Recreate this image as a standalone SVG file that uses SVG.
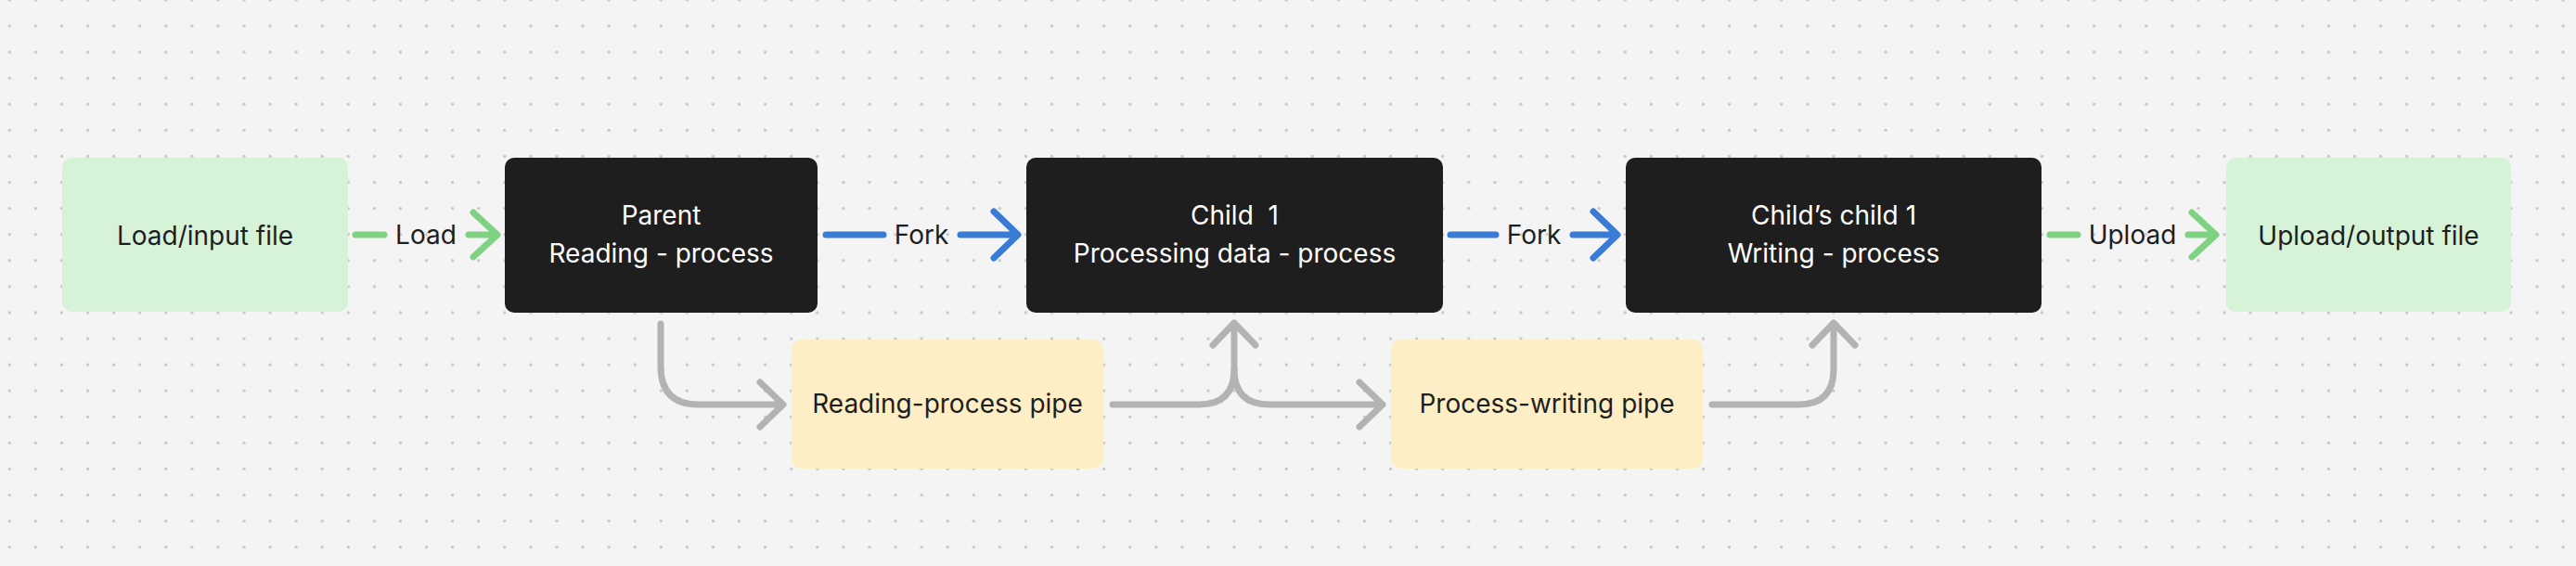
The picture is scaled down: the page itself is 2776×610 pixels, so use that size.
<svg xmlns="http://www.w3.org/2000/svg" width="2776" height="610" viewBox="0 0 2776 610">
  <defs>
    <pattern id="dots" x="-3.74" y="-14.04" width="28.08" height="28.08" patternUnits="userSpaceOnUse">
      <circle cx="14.04" cy="14.04" r="1.7" fill="#c8c8c8"/>
    </pattern>
    <style>
      .lbl { font-family: Inter, "Noto Sans", "Liberation Sans", sans-serif; font-size: 28px; text-anchor: middle; }
      .dark { fill: #1e1e1e; }
      .light { fill: #ffffff; }
      .green-box { fill: #d6f3d8; }
      .black-box { fill: #1e1e1e; }
      .yellow-box { fill: #fdeec5; }
      .c { fill: none; stroke-width: 7; stroke-linecap: round; stroke-linejoin: round; }
      .cg { stroke: #80d283; }
      .cb { stroke: #3a7bd5; }
      .cy { stroke: #b3b3b3; }
    </style>
  </defs>
  <rect width="2776" height="610" fill="#f4f4f4"/>
  <rect width="2776" height="610" fill="url(#dots)"/>

  <g id="connectors">
    <!-- Load -->
    <g id="edge-load">
      <path class="c cg" d="M383 253 H414"/>
      <text class="lbl dark" x="459" y="263">Load</text>
      <path class="c cg" d="M505 253 H535 M510 229 L536 253 L510 277"/>
    </g>
    <!-- Fork 1 -->
    <g id="edge-fork1">
      <path class="c cb" d="M890 253 H952"/>
      <text class="lbl dark" x="993" y="263">Fork</text>
      <path class="c cb" d="M1035 253 H1096 M1071 228 L1097 253 L1071 278"/>
    </g>
    <!-- Fork 2 -->
    <g id="edge-fork2">
      <path class="c cb" d="M1563 253 H1612"/>
      <text class="lbl dark" x="1653" y="263">Fork</text>
      <path class="c cb" d="M1695 253 H1742 M1717 228 L1743 253 L1717 278"/>
    </g>
    <!-- Upload -->
    <g id="edge-upload">
      <path class="c cg" d="M2209 253 H2239"/>
      <text class="lbl dark" x="2298" y="263">Upload</text>
      <path class="c cg" d="M2358 253 H2387 M2362 229 L2388 253 L2362 277"/>
    </g>
    <!-- Parent -> Reading-process pipe -->
    <g id="edge-parent-pipe1">
      <path class="c cy" d="M712 349 V395 Q712 436 753 436 H843 M819 412 L844 436 L819 460"/>
    </g>
    <!-- Reading-process pipe -> Child 1 -->
    <g id="edge-pipe1-child1">
      <path class="c cy" d="M1199 436 H1292 Q1330 436 1330 398 V348 M1307 372 L1330 348 L1353 372"/>
    </g>
    <!-- Child 1 -> Process-writing pipe -->
    <g id="edge-child1-pipe2">
      <path class="c cy" d="M1330 398 Q1330 436 1368 436 H1489 M1465 412 L1490 436 L1465 460"/>
    </g>
    <!-- Process-writing pipe -> Child's child 1 -->
    <g id="edge-pipe2-grandchild">
      <path class="c cy" d="M1845 436 H1938 Q1976 436 1976 398 V348 M1953 372 L1976 348 L1999 372"/>
    </g>
  </g>

  <g id="node-load-input">
    <rect class="green-box" x="67" y="170" width="308" height="166" rx="10"/>
    <text class="lbl dark" x="221" y="264">Load/input file</text>
  </g>
  <g id="node-parent">
    <rect class="black-box" x="544" y="170" width="337" height="167" rx="10"/>
    <text class="lbl light" x="712.5" y="242">Parent</text>
    <text class="lbl light" x="712.5" y="283">Reading - process</text>
  </g>
  <g id="node-child1">
    <rect class="black-box" x="1106" y="170" width="449" height="167" rx="10"/>
    <text class="lbl light" x="1330.5" y="242" xml:space="preserve">Child  1</text>
    <text class="lbl light" x="1330.5" y="283">Processing data - process</text>
  </g>
  <g id="node-grandchild">
    <rect class="black-box" x="1752" y="170" width="448" height="167" rx="10"/>
    <text class="lbl light" x="1976" y="242">Child’s child 1</text>
    <text class="lbl light" x="1976" y="283">Writing - process</text>
  </g>
  <g id="node-upload-output">
    <rect class="green-box" x="2399" y="170" width="307" height="166" rx="10"/>
    <text class="lbl dark" x="2552.5" y="264">Upload/output file</text>
  </g>
  <g id="node-reading-pipe">
    <rect class="yellow-box" x="853" y="366" width="336" height="139" rx="10"/>
    <text class="lbl dark" x="1021" y="445">Reading-process pipe</text>
  </g>
  <g id="node-writing-pipe">
    <rect class="yellow-box" x="1499" y="366" width="336" height="139" rx="10"/>
    <text class="lbl dark" x="1667" y="445">Process-writing pipe</text>
  </g>
</svg>
